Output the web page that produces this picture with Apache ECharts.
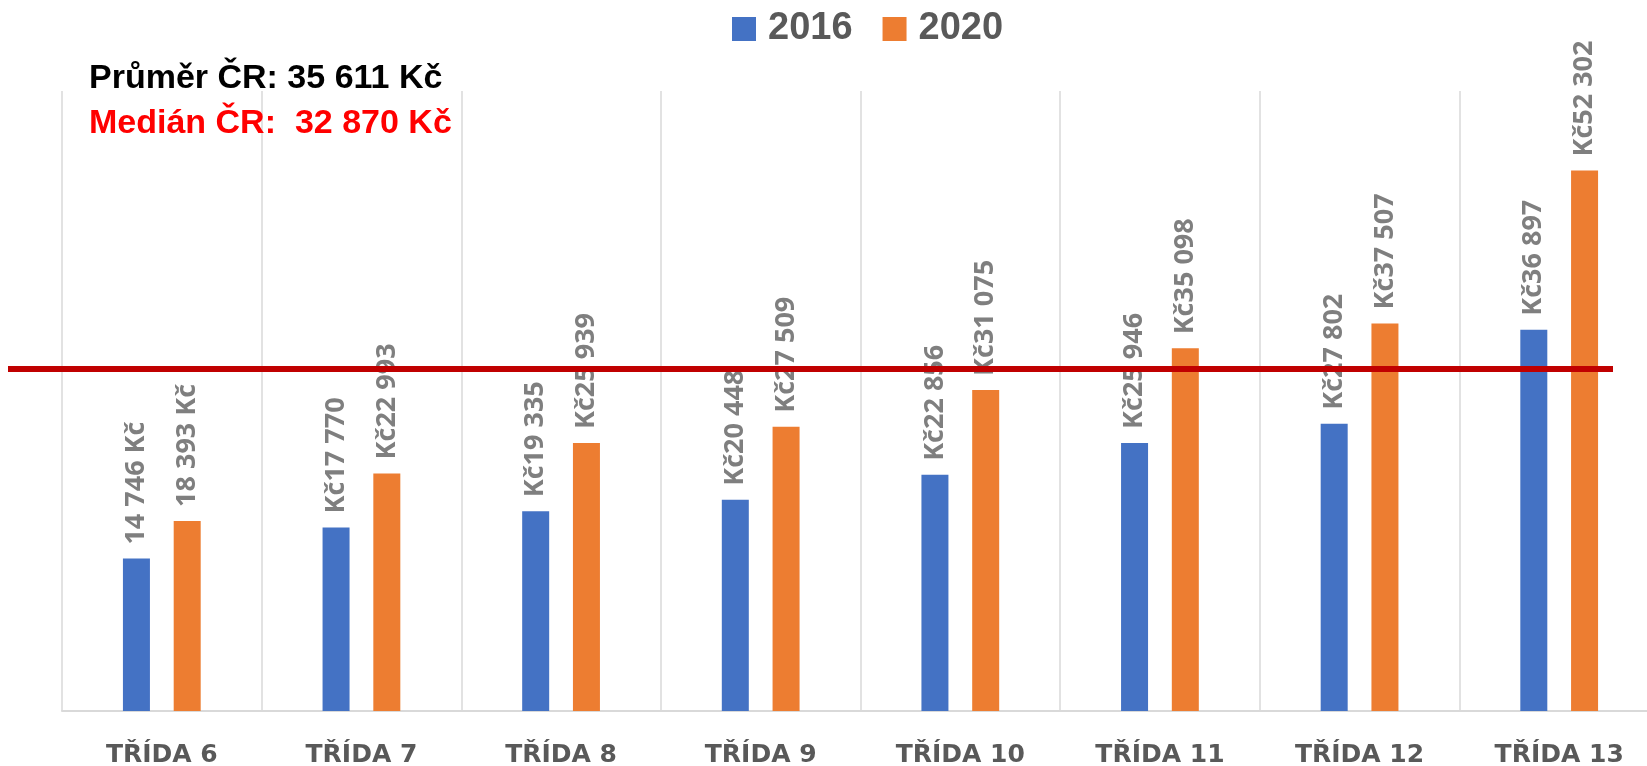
<!DOCTYPE html>
<html>
<head>
<meta charset="utf-8">
<script src="https://cdn.jsdelivr.net/npm/echarts@6/dist/echarts.min.js"></script>
<style>
    html, body { margin: 0; padding: 0; background: #fff; }
    #main { width: 1647px; height: 766px; }
</style>
</head>
<body>
<div id="main"></div>
<script>
// data
var categories = ['TŘÍDA 6', 'TŘÍDA 7', 'TŘÍDA 8', 'TŘÍDA 9', 'TŘÍDA 10', 'TŘÍDA 11', 'TŘÍDA 12', 'TŘÍDA 13'];
var values2016 = [14746, 17770, 19335, 20448, 22856, 25946, 27802, 36897];
var values2020 = [18393, 22993, 25939, 27509, 31075, 35098, 37507, 52302];
var seriesNames = ['2016', '2020'];
var averageText = 'Průměr ČR: 35 611 Kč';
var medianText = 'Medián ČR:  32 870 Kč';
var redLineValue = 33100; // hand drawn line, sits a bit above the median

function fmt(v) {
    return String(v).replace(/\B(?=(\d{3})+(?!\d))/g, ' ');
}

var myChart = echarts.init(document.getElementById('main'));

function barLabel() {
    return {
        show: true,
        position: 'top',
        distance: 14,
        rotate: 90,
        align: 'left',
        verticalAlign: 'middle',
        color: '#7f7f7f',
        fontFamily: 'Open Sans',
        fontWeight: 'bold',
        fontSize: 27,
        formatter: function (p) {
            // first category is written with the currency after the number
            return p.dataIndex === 0 ? fmt(p.value) + ' Kč' : 'Kč' + fmt(p.value);
        }
    };
}

var option = {
    animation: false,
    legend: {
        left: 732,
        top: 10,
        padding: 0,
        icon: 'rect',
        itemWidth: 24,
        itemHeight: 24,
        itemGap: 30,
        textStyle: {
            color: '#595959',
            fontFamily: 'Liberation Sans',
            fontWeight: 'bold',
            fontSize: 38,
            padding: [0, 0, 0, 7]
        },
        data: seriesNames
    },
    grid: {
        left: 62,
        top: 91,
        width: 1597,
        bottom: 55,
        outerBoundsMode: 'none'
    },
    xAxis: {
        type: 'category',
        data: categories,
        axisTick: { show: false },
        axisLine: { lineStyle: { color: '#d9d9d9', width: 2 } },
        splitLine: { show: true, lineStyle: { color: '#d9d9d9', width: 1.5 } },
        axisLabel: {
            margin: 32,
            color: '#595959',
            fontFamily: 'DejaVu Sans',
            fontWeight: 'bold',
            fontSize: 25
        }
    },
    yAxis: {
        type: 'value',
        min: 0,
        max: 60000,
        show: false,
        splitLine: { show: false }
    },
    series: [
        {
            name: seriesNames[0],
            type: 'bar',
            barWidth: 27,
            barGap: '88%',
            itemStyle: { color: '#4472c4' },
            label: barLabel(),
            data: values2016
        },
        {
            name: seriesNames[1],
            type: 'bar',
            barWidth: 27,
            barGap: '88%',
            itemStyle: { color: '#ed7d31' },
            label: barLabel(),
            data: values2020
        }
    ]
};

option && myChart.setOption(option);

// the red line and the two notes are drawn over the chart
var lineY = myChart.convertToPixel({ yAxisIndex: 0 }, redLineValue);
myChart.setOption({
    graphic: [
        {
            type: 'line',
            shape: { x1: 8, y1: lineY, x2: 1613, y2: lineY },
            style: { stroke: '#c00000', lineWidth: 6 },
            z: 100
        },
        {
            type: 'text',
            left: 89,
            top: 62,
            style: {
                text: averageText,
                fill: '#000',
                font: 'bold 34px "Liberation Sans"'
            }
        },
        {
            type: 'text',
            left: 89,
            top: 107,
            style: {
                text: medianText,
                fill: '#ff0000',
                font: 'bold 34px "Liberation Sans"'
            }
        }
    ]
});
</script>
</body>
</html>
